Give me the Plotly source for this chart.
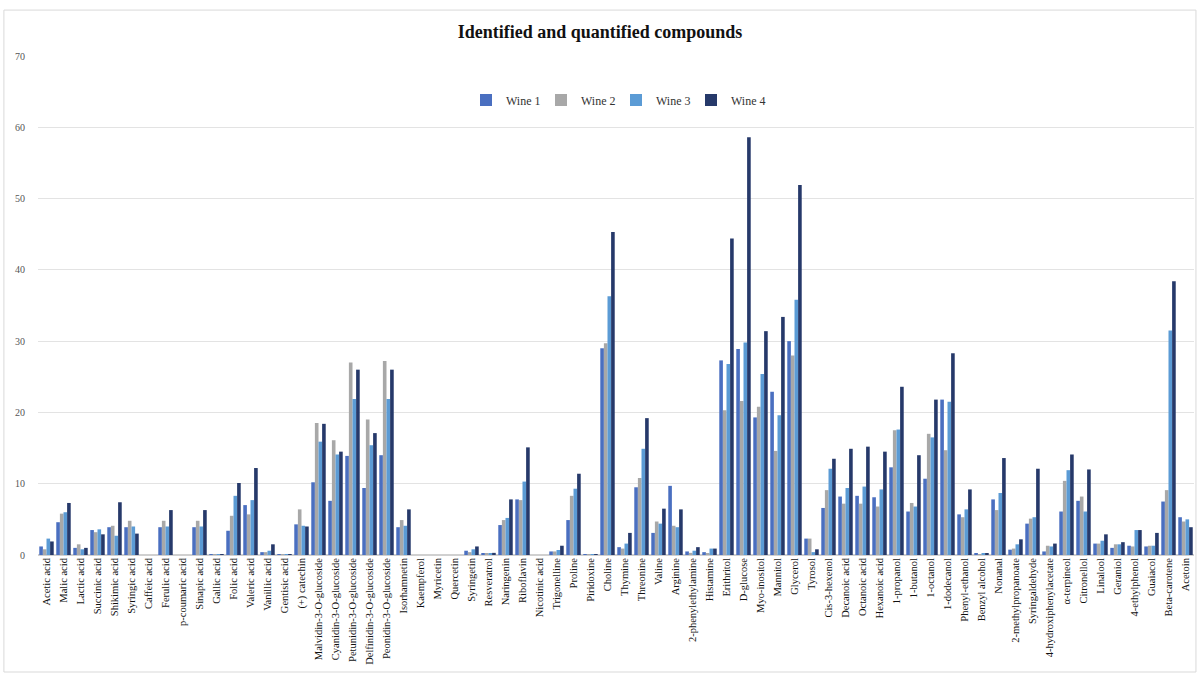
import plotly.graph_objects as go

categories = ["Acetic acid", "Malic acid", "Lactic acid", "Succinic acid", "Shikimic acid", "Syringic acid",
              "Caffeic acid", "Ferulic acid", "p-coumaric acid", "Sinapic acid", "Gallic acid", "Folic acid",
              "Valeric acid", "Vanillic acid", "Gentisic acid", "(+) catechin", "Malvidin-3-O-glucoside",
              "Cyanidin-3-O-glucoside", "Petunidin-3-O-glucoside", "Delfinidin-3-O-glucoside",
              "Peonidin-3-O-glucoside", "Isorhamnetin", "Kaempferol", "Myricetin", "Quercetin", "Syringetin",
              "Resveratrol", "Naringenin", "Riboflavin", "Nicotinic acid", "Trigonelline", "Proline",
              "Piridoxine", "Choline", "Thymine", "Threonine", "Valine", "Arginine", "2-phenylethylamine",
              "Histamine", "Erithritol", "D-glucose", "Myo-inositol", "Mannitol", "Glycerol", "Tyrosol",
              "Cis-3-hexenol", "Decanoic acid", "Octanoic acid", "Hexanoic acid", "1-propanol", "1-butanol",
              "1-octanol", "1-dodecanol", "Phenyl-ethanol", "Benzyl alcohol", "Nonanal", "2-methylpropanoate",
              "Syringaldehyde", "4-hydroxiphenylacetate", "α-terpineol", "Citronellol", "Linalool", "Geraniol",
              "4-ethylphenol", "Guaiacol", "Beta-carotene", "Acetoin"]

wine1 = [1.2, 4.6, 1.0, 3.5, 3.9, 3.9, 0, 3.9, 0, 3.9, 0.05, 3.4, 7.0, 0.4, 0.1, 4.3, 10.2, 7.6, 13.9, 9.4,
         14.0, 3.9, 0, 0, 0, 0.6, 0.2, 4.2, 7.8, 0, 0.5, 4.9, 0.1, 29.0, 1.1, 9.5, 3.1, 9.7, 0.5, 0.4,
         27.3, 28.9, 19.3, 22.9, 30.0, 2.3, 6.6, 8.2, 8.3, 8.1, 12.3, 6.1, 10.7, 21.8, 5.7, 0.2, 7.8, 0.75,
         4.4, 0.5, 6.1, 7.6, 1.6, 1.0, 1.3, 1.2, 7.5, 5.3]
wine2 = [0.8, 5.8, 1.5, 3.2, 4.1, 4.8, 0, 4.8, 0, 4.8, 0.05, 5.5, 5.7, 0.4, 0.1, 6.4, 18.5, 16.1, 27.0, 19.0,
         27.2, 4.9, 0, 0, 0, 0.4, 0.2, 4.9, 7.7, 0, 0.5, 8.3, 0.1, 29.7, 0.9, 10.8, 4.7, 4.1, 0.3, 0.2,
         20.3, 21.6, 20.8, 14.6, 28.0, 2.3, 9.1, 7.2, 7.2, 6.8, 17.5, 7.3, 17.0, 14.7, 5.3, 0.1, 6.3, 0.9,
         5.1, 1.3, 10.4, 8.2, 1.6, 1.5, 1.2, 1.3, 9.1, 4.7]
wine3 = [2.3, 6.0, 0.8, 3.6, 2.7, 4.0, 0, 4.0, 0, 4.0, 0.05, 8.3, 7.7, 0.6, 0.1, 4.1, 15.9, 14.1, 21.9, 15.4,
         21.9, 4.1, 0, 0, 0, 0.8, 0.2, 5.2, 10.3, 0, 0.7, 9.3, 0.1, 36.3, 1.6, 14.9, 4.4, 3.9, 0.6, 0.9,
         26.8, 29.8, 25.4, 19.6, 35.8, 0.4, 12.1, 9.4, 9.6, 9.2, 17.6, 6.8, 16.5, 21.5, 6.4, 0.2, 8.7, 1.5,
         5.3, 1.2, 11.9, 6.1, 2.0, 1.5, 3.5, 1.3, 31.5, 5.0]
wine4 = [1.9, 7.3, 1.0, 2.9, 7.4, 3.0, 0, 6.3, 0, 6.3, 0.05, 10.1, 12.2, 1.5, 0.1, 4.0, 18.4, 14.5, 26.0, 17.1,
         26.0, 6.4, 0, 0, 0, 1.2, 0.3, 7.8, 15.1, 0, 1.3, 11.4, 0.1, 45.3, 3.1, 19.2, 6.5, 6.4, 1.1, 0.9,
         44.4, 58.6, 31.4, 33.4, 51.9, 0.8, 13.5, 14.9, 15.2, 14.5, 23.6, 14.0, 21.8, 28.3, 9.2, 0.2, 13.6, 2.2,
         12.1, 1.6, 14.1, 12.0, 2.9, 1.8, 3.5, 3.1, 38.4, 3.9]

series = [("Wine 1", wine1, "#4a6fc0"), ("Wine 2", wine2, "#a8a8a8"),
          ("Wine 3", wine3, "#5b9bd5"), ("Wine 4", wine4, "#26396a")]

fig = go.Figure()
for name, vals, col in series:
    fig.add_trace(go.Bar(x=categories, y=vals, name=name, marker=dict(color=col, line=dict(width=0))))

serif = "Liberation Serif, Times New Roman, serif"
fig.update_layout(
    width=1200, height=674,
    margin=dict(l=38, r=6, t=56, b=119),
    paper_bgcolor="white", plot_bgcolor="white",
    barmode="group", bargap=0.15, bargroupgap=0.0,
    title=dict(text="<b>Identified and quantified compounds</b>", x=0.5, xanchor="center",
               y=0.953, yanchor="middle", font=dict(family=serif, size=18, color="#111")),
    legend=dict(orientation="h", x=0.5, xanchor="center", y=0.912, yanchor="middle",
                font=dict(family=serif, size=12, color="#333"), bgcolor="rgba(0,0,0,0)",
                itemwidth=30, entrywidth=30, entrywidthmode="pixels", traceorder="normal"),
    font=dict(family=serif),
    showlegend=True,
)
fig.update_xaxes(tickangle=-90, tickfont=dict(family=serif, size=10.5, color="#111"),
                 showgrid=False, showline=False, ticks="", automargin=False)
fig.update_yaxes(range=[0, 70], dtick=10, showgrid=True, gridcolor="#e3e3e3", gridwidth=1,
                 zeroline=True, zerolinecolor="#d0d0d0", tickfont=dict(family=serif, size=10, color="#555"),
                 showline=False, ticks="", automargin=False, ticklabelstandoff=12)
fig.add_shape(type="rect", xref="paper", yref="paper", x0=-0.0295, x1=1.0017, y0=-0.2345, y1=1.092,
              line=dict(color="#d9d9d9", width=1), fillcolor="rgba(0,0,0,0)", layer="below")
fig.write_html("out.html", config={"displayModeBar": False},
               post_script="document.body.style.margin='0';")
